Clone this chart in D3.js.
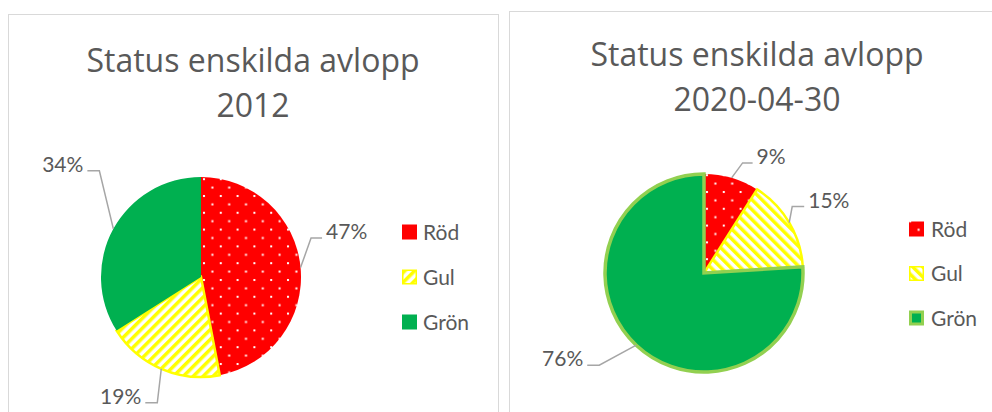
<!DOCTYPE html>
<html>
<head>
<meta charset="utf-8">
<script src="https://cdn.jsdelivr.net/npm/d3@7/dist/d3.min.js"></script>
<style>
  html, body { margin: 0; padding: 0; background: #fff; }
  svg { display: block; }
  text { font-family: Lato, "Noto Sans", sans-serif; fill: #595959; }
  text.title { font-family: "Open Sans", "Noto Sans", sans-serif; }
</style>
</head>
<body>
<svg id="chart" width="992" height="412"></svg>
<script>
// Status categories and their shares (%) for the two reporting dates
const categories = ["Röd", "Gul", "Grön"];
const values2012 = [47, 19, 34];
const values2020 = [9, 15, 76];
const titles2012 = ["Status enskilda avlopp", "2012"];
const titles2020 = ["Status enskilda avlopp", "2020-04-30"];

const svg = d3.select("#chart");
const defs = svg.append("defs");

// Fill patterns: dotted red, striped yellow (two stripe directions)
function dotPattern(id) {
  const p = defs.append("pattern").attr("id", id)
    .attr("patternUnits", "userSpaceOnUse").attr("width", 16.8).attr("height", 16.8);
  p.append("rect").attr("width", 16.8).attr("height", 16.8).attr("fill", "#FF0000");
  p.append("rect").attr("x", 2).attr("y", 2).attr("width", 2).attr("height", 2).attr("fill", "#fff");
  p.append("rect").attr("x", 10.4).attr("y", 10.4).attr("width", 2).attr("height", 2).attr("fill", "#fff");
}
function stripePattern(id, angle) {
  const w = 7;
  const p = defs.append("pattern").attr("id", id)
    .attr("patternUnits", "userSpaceOnUse").attr("width", w).attr("height", w)
    .attr("patternTransform", `rotate(${angle})`);
  p.append("rect").attr("width", w).attr("height", w).attr("fill", "#fff");
  p.append("rect").attr("width", 3.5).attr("height", w).attr("fill", "#FFFF00");
}
dotPattern("dots");
stripePattern("stripesUp", 45);
stripePattern("stripesDown", -45);

const color = d3.scaleOrdinal().domain(categories).range(["#FF0000", "#FFFF00", "#00B050"]);

function drawChart(cfg) {
  const g = svg.append("g");

  // frame
  g.append("rect")
    .attr("x", cfg.frame[0]).attr("y", cfg.frame[1])
    .attr("width", cfg.frame[2]).attr("height", cfg.frame[3])
    .attr("fill", "#fff").attr("stroke", "#D9D9D9").attr("stroke-width", 1);

  // title
  const t = g.append("text").attr("class", "title").attr("text-anchor", "middle")
    .attr("font-size", 32).attr("font-weight", 400);
  cfg.title.forEach((line, i) => {
    t.append("tspan").attr("x", cfg.titleX).attr("y", cfg.titleY + i * 45).text(line);
  });

  const data = categories.map((c, i) => ({ cat: c, value: cfg.values[i] }));
  const pie = d3.pie().sort(null).value(d => d.value);
  const arcs = pie(data);
  const arc = d3.arc().innerRadius(0).outerRadius(cfg.r);

  const pg = g.append("g").attr("transform", `translate(${cfg.cx},${cfg.cy})`);
  pg.selectAll("path.slice").data(arcs).join("path")
    .attr("class", "slice")
    .attr("d", arc)
    .attr("fill", d => cfg.fills[d.data.cat])
    .attr("stroke", d => cfg.strokes[d.data.cat] || "none")
    .attr("stroke-width", d => cfg.strokeW[d.data.cat] || 0)
    .attr("stroke-linejoin", "miter");

  // data labels with leader lines
  const fmt = d => d3.format(".0f")(d.data.value) + "%";
  arcs.forEach((d, i) => {
    const mid = (d.startAngle + d.endAngle) / 2;
    const ax = cfg.cx + cfg.r * Math.sin(mid);
    const ay = cfg.cy - cfg.r * Math.cos(mid);
    const L = cfg.labels[i];
    const ex = ax + L.dx, ey = ay + L.dy;
    const hx = ex + L.side * L.len;
    g.append("polyline")
      .attr("points", [[ax, ay], [ex, ey], [hx, ey]].map(p => p.join(",")).join(" "))
      .attr("fill", "none").attr("stroke", "#A6A6A6").attr("stroke-width", 1.5);
    g.append("text")
      .attr("x", hx + L.side * 4).attr("y", ey + 1)
      .attr("text-anchor", L.side > 0 ? "start" : "end")
      .attr("font-size", 21)
      .text(fmt(d));
  });

  // legend
  const lg = g.append("g");
  categories.forEach((c, i) => {
    const y = cfg.legendY + i * cfg.legendStep;
    const sw = cfg.legendStroke[c];
    lg.append("rect")
      .attr("x", cfg.legendX + (sw ? sw / 2 : 0)).attr("y", y - 7.5 + (sw ? sw / 2 : 0))
      .attr("width", 15 - (sw || 0)).attr("height", 15 - (sw || 0))
      .attr("fill", cfg.legendFills[c])
      .attr("stroke", sw ? cfg.strokes[c] : "none")
      .attr("stroke-width", sw || 0);
    lg.append("text")
      .attr("x", cfg.legendX + cfg.legendGap).attr("y", y + 7.5)
      .attr("font-size", 21).text(c);
  });
}

drawChart({
  frame: [8.5, 14.5, 490, 420],
  title: titles2012, titleX: 253, titleY: 72,
  values: values2012,
  cx: 201, cy: 277, r: 100,
  fills: { "Röd": "url(#dots)", "Gul": "url(#stripesUp)", "Grön": color("Grön") },
  strokes: { "Gul": "#FFFF00" },
  strokeW: { "Gul": 2.5 },
  labels: [
    { dx: 10.5, dy: -29.5, len: 11, side: 1 },
    { dx: -4, dy: 34, len: 12, side: -1 },
    { dx: -14, dy: -58, len: 12, side: -1 }
  ],
  legendX: 402, legendY: 232, legendStep: 45, legendGap: 21,
  legendFills: { "Röd": "#FF0000", "Gul": "url(#stripesUp)", "Grön": color("Grön") },
  legendStroke: { "Gul": 1.5 }
});

drawChart({
  frame: [509.5, 11.5, 500, 420],
  title: titles2020, titleX: 757, titleY: 66,
  values: values2020,
  cx: 704, cy: 273, r: 99,
  fills: { "Röd": "url(#dots)", "Gul": "url(#stripesDown)", "Grön": color("Grön") },
  strokes: { "Gul": "#FFFF00", "Grön": "#92D050" },
  strokeW: { "Gul": 2.5, "Grön": 3.5 },
  labels: [
    { dx: 11, dy: -15, len: 10, side: 1 },
    { dx: 3, dy: -16, len: 12, side: 1 },
    { dx: -37, dy: 20, len: 12, side: -1 }
  ],
  legendX: 909, legendY: 229, legendStep: 44.5, legendGap: 22,
  legendFills: { "Röd": "url(#dots)", "Gul": "url(#stripesDown)", "Grön": color("Grön") },
  legendStroke: { "Gul": 1.5, "Grön": 3 }
});
</script>
</body>
</html>
